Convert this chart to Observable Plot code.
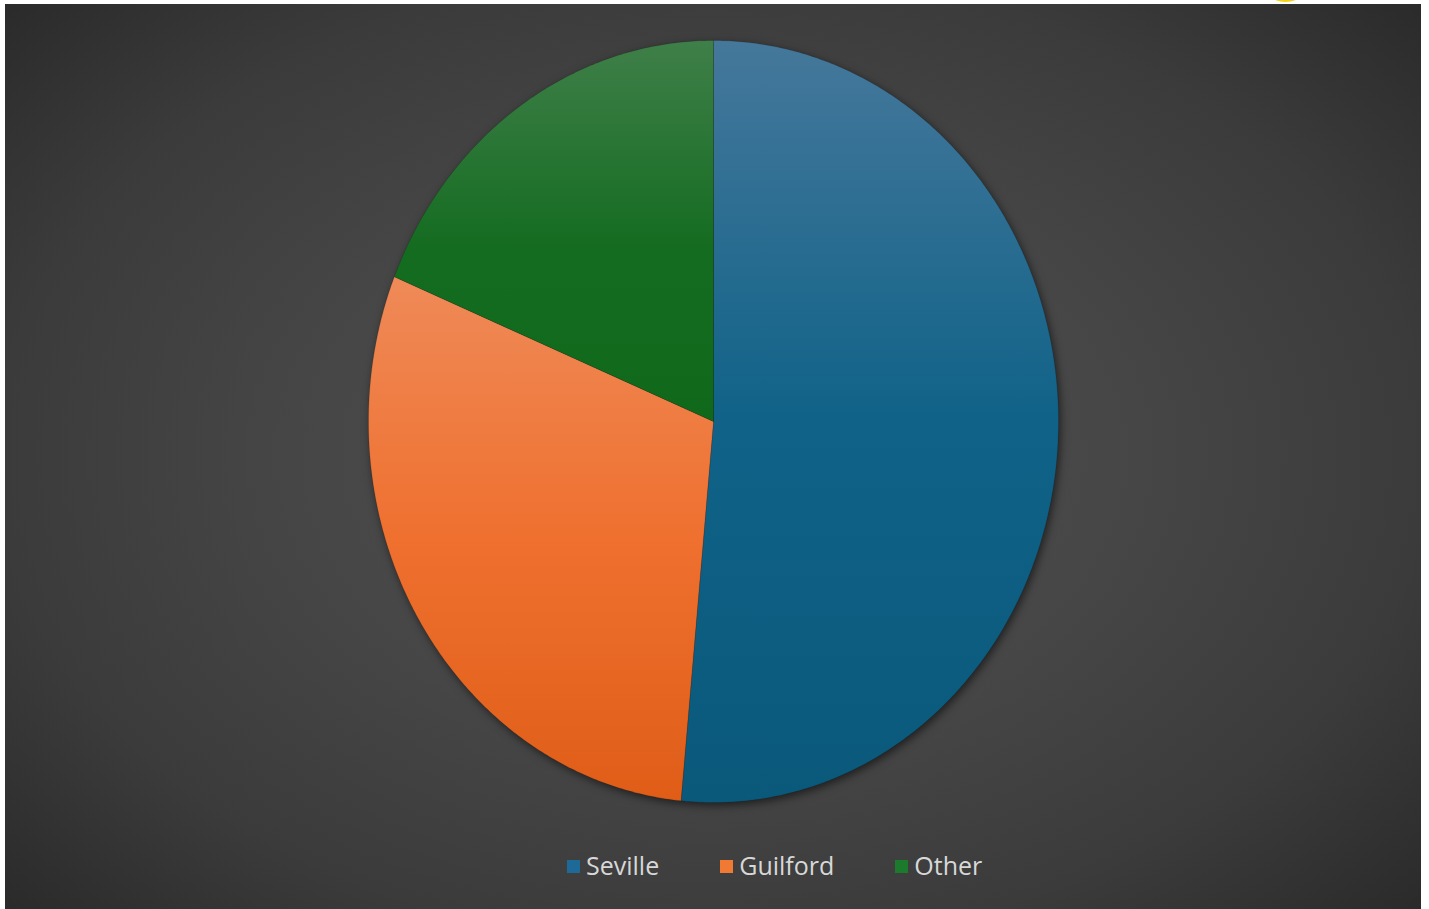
<!DOCTYPE html>
<html>
<head>
<meta charset="utf-8">
<script src="https://cdn.jsdelivr.net/npm/d3@7"></script>
<script src="https://cdn.jsdelivr.net/npm/@observablehq/plot@0.6"></script>
<style>
  html, body { margin: 0; padding: 0; background: #ffffff; }
  #frame {
    position: absolute; left: 5px; top: 4px; width: 1416px; height: 905px;
    background: radial-gradient(ellipse 70% 75% at 50% 50%, #4d4d4d 0%, #474747 40%, #3b3b3b 72%, #292929 100%);
    overflow: hidden;
  }
  #legend {
    display: flex; align-items: center; padding-left: 562px; margin-top: 14px;
    font-family: "Open Sans", sans-serif; font-size: 25px; color: #d8d8d8;
  }
  .item { display: flex; align-items: center; margin-right: 61px; }
  .sw { width: 13px; height: 13px; margin-right: 6px; margin-top: 3px; }
  #dot { position: absolute; left: 1272px; top: -10px; width: 27px; height: 12px; border-radius: 50%; background: #f2d21a; }
</style>
</head>
<body>
<div id="dot"></div>
<div id="frame">
  <div id="chart"></div>
  <div id="legend"></div>
</div>
<script>
const categories = ["Seville", "Guilford", "Other"];
const values = [51.5, 29.7, 18.8];
const swatchColors = ["#1d6a98", "#f07a33", "#1b7a2b"];
const gradientStops = [
  [["0", "#45789b"], ["0.5", "#106288"], ["1", "#0a597b"]],
  [["0", "#ef8a58"], ["0.5", "#ef702f"], ["1", "#df5d17"]],
  [["0", "#3f7f49"], ["0.55", "#146c20"], ["1", "#10691b"]]
];

// slice outlines computed from values (angles clockwise from top)
const total = d3.sum(values);
const rows = [];
let start = 0;
categories.forEach((name, i) => {
  const span = values[i] / total * 2 * Math.PI;
  const end = start + span;
  rows.push({name, x: 0, y: 0});
  const n = Math.max(2, Math.ceil(span / (Math.PI / 360)));
  for (let k = 0; k <= n; k++) {
    const a = start + span * k / n;
    rows.push({name, x: Math.sin(a), y: Math.cos(a)});
  }
  rows.push({name, x: 0, y: 0});
  start = end;
});

const gradIds = categories.map((c, i) => `url(#grad${i})`);

const svg = Plot.plot({
  width: 1416,
  height: 830,
  margin: 0,
  style: { background: "transparent", filter: "drop-shadow(2px 3px 4px rgba(0,0,0,0.55))" },
  x: { domain: [-1, 1], range: [363, 1053], axis: null },
  y: { domain: [-1, 1], range: [798, 36], axis: null },
  color: { domain: categories, range: gradIds },
  marks: [
    Plot.line(rows, { x: "x", y: "y", z: "name", fill: "name", stroke: "rgba(0,0,0,0.15)", strokeWidth: 0.8, curve: "linear" })
  ]
});

const ns = "http://www.w3.org/2000/svg";
const defs = document.createElementNS(ns, "defs");
gradientStops.forEach((stops, i) => {
  const lg = document.createElementNS(ns, "linearGradient");
  lg.setAttribute("id", `grad${i}`);
  lg.setAttribute("x1", "0"); lg.setAttribute("y1", "0");
  lg.setAttribute("x2", "0"); lg.setAttribute("y2", "1");
  stops.forEach(([off, col]) => {
    const s = document.createElementNS(ns, "stop");
    s.setAttribute("offset", off);
    s.setAttribute("stop-color", col);
    lg.appendChild(s);
  });
  defs.appendChild(lg);
});
svg.insertBefore(defs, svg.firstChild);
document.getElementById("chart").appendChild(svg);

const legend = document.getElementById("legend");
categories.forEach((c, i) => {
  const item = document.createElement("div");
  item.className = "item";
  const sw = document.createElement("span");
  sw.className = "sw";
  sw.style.background = swatchColors[i];
  const t = document.createElement("span");
  t.textContent = c;
  item.appendChild(sw);
  item.appendChild(t);
  legend.appendChild(item);
});
</script>
</body>
</html>
